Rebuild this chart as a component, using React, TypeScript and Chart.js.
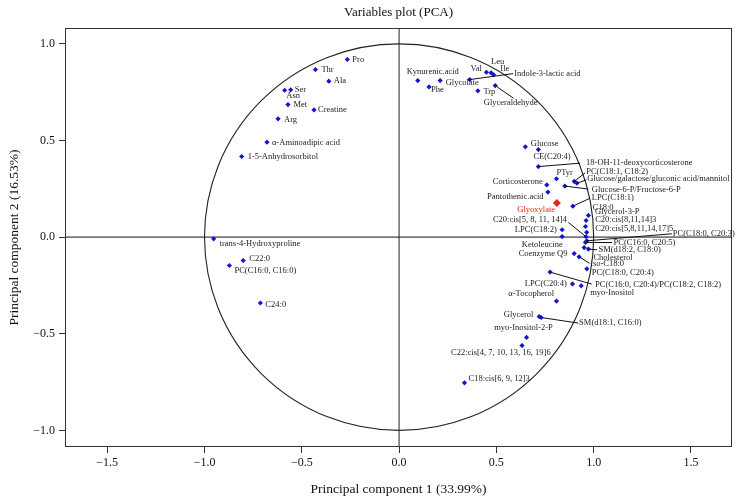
import React, { useEffect, useRef } from "react";
import { Chart, registerables } from "chart.js";
Chart.register(...registerables);

const names = [
  "Pro", "Thr", "Ala", "Ser", "Asn", "Met", "Creatine", "Arg", "α-Aminoadipic acid", "1-5-Anhydrosorbitol",
  "trans-4-Hydroxyproline", "C22:0", "PC(C16:0, C16:0)", "C24:0",
  "Kynurenic.acid", "Phe", "Glycolate", "Indole-3-lactic acid", "Trp", "Val", "Leu", "Ile", "Glyceraldehyde",
  "Glucose", "CE(C20:4)", "18-OH-11-deoxycorticosterone", "PTyr", "PC(C18:1, C18:2)",
  "Glucose/galactose/gluconic acid/mannitol", "Corticosterone", "Pantothenic.acid", "Glyoxylate",
  "Glucose-6-P/Fructose-6-P", "LPC(C18:1)", "C18:0", "Glycerol-3-P", "C20:cis[8,11,14]3",
  "C20:cis[5,8,11,14,17]5", "C20:cis[5, 8, 11, 14]4", "LPC(C18:2)", "Ketoleucine", "PC(C18:0, C20:3)",
  "PC(C16:0, C20:5)", "Cholesterol", "SM(d18:2, C18:0)", "Coenzyme Q9", "iso-C18:0", "PC(C18:0, C20:4)",
  "PC(C16:0, C20:4)/PC(C18:2, C18:2)", "LPC(C20:4)", "myo-Inositol", "α-Tocopherol", "Glycerol",
  "SM(d18:1, C16:0)", "myo-Inositol-2-P", "C22:cis[4, 7, 10, 13, 16, 19]6", "C18:cis[6, 9, 12]3",
];

const pc1 = [
  -0.266, -0.43, -0.361, -0.557, -0.588, -0.571, -0.437, -0.622, -0.679, -0.809,
  -0.953, -0.801, -0.872, -0.713,
  0.096, 0.154, 0.211, 0.363, 0.405, 0.449, 0.473, 0.486, 0.494,
  0.649, 0.716, 0.716, 0.809, 0.9,
  0.914, 0.759, 0.765, 0.811,
  0.852, 0.893, 0.973, 0.961, 0.958,
  0.964, 0.961, 0.838, 0.838, 0.965,
  0.958, 0.951, 0.973, 0.9, 0.925, 0.965,
  0.776, 0.891, 0.936, 0.809, 0.72,
  0.73, 0.655, 0.632, 0.336,
];

const pc2 = [
  0.919, 0.867, 0.807, 0.762, 0.76, 0.686, 0.658, 0.612, 0.491, 0.417,
  -0.009, -0.121, -0.147, -0.341,
  0.81, 0.777, 0.81, 0.815, 0.757, 0.853, 0.85, 0.84, 0.784,
  0.467, 0.453, 0.365, 0.302, 0.288,
  0.279, 0.27, 0.233, 0.176,
  0.264, 0.16, 0.112, 0.086, 0.055,
  0.025, 0.002, 0.038, 0.003, -0.019,
  -0.028, -0.054, -0.062, -0.085, -0.102, -0.164,
  -0.181, -0.242, -0.252, -0.331, -0.411,
  -0.416, -0.519, -0.561, -0.754,
];

const highlighted = ["Glyoxylate"];
const chartTitle = "Variables plot (PCA)";
const xTitle = "Principal component 1 (33.99%)";
const yTitle = "Principal component 2 (16.53%)";

// label placement: [dx, dy, align, leaderDx?, leaderDy?] in pixels relative to the point
type Lay = [number, number, "l" | "r" | "c", number?, number?];
const labelLayout: Record<string, Lay> = {
  "Pro": [5, 0, "l"],
  "Thr": [6, 0, "l"],
  "Ala": [5, 0, "l"],
  "Ser": [4, 0, "l"],
  "Asn": [8.5, 6, "c"],
  "Met": [5.5, 0, "l"],
  "Creatine": [4, 0, "l"],
  "Arg": [6, 1, "l"],
  "α-Aminoadipic acid": [5, 0.5, "l"],
  "1-5-Anhydrosorbitol": [6, 0, "l"],
  "trans-4-Hydroxyproline": [6, 5, "l"],
  "C22:0": [6, -1.5, "l"],
  "PC(C16:0, C16:0)": [5, 5, "l"],
  "C24:0": [5, 1.5, "l"],
  "Kynurenic.acid": [15, -9, "c"],
  "Phe": [2, 3, "l"],
  "Glycolate": [5.5, 2.6, "l"],
  "Indole-3-lactic acid": [44.5, -5.7, "l", 43.3, -6],
  "Trp": [5.5, 1, "l"],
  "Val": [-4.5, -3.3, "r"],
  "Leu": [6.5, -10.7, "c"],
  "Ile": [6.7, -6, "l"],
  "Glyceraldehyde": [15.5, 17.3, "c", 18.3, 12.6],
  "Glucose": [5.4, -3, "l"],
  "CE(C20:4)": [-5, 7, "l"],
  "18-OH-11-deoxycorticosterone": [47.7, -3.4, "l", 41.7, -3.4],
  "PTyr": [0, -5.7, "l"],
  "PC(C18:1, C18:2)": [12, -10, "l", 11, -8.7],
  "Glucose/galactose/gluconic acid/mannitol": [10.3, -4, "l", 9.3, -3.3],
  "Corticosterone": [-4, -3, "r"],
  "Pantothenic.acid": [-4.4, 4.4, "r"],
  "Glyoxylate": [-20.7, 7, "c"],
  "Glucose-6-P/Fructose-6-P": [27, 3.7, "l", 23.6, 3],
  "LPC(C18:1)": [19, -8, "l", 17.3, -8],
  "C18:0": [4.4, -8, "l"],
  "Glycerol-3-P": [9, -8.4, "l"],
  "C20:cis[8,11,14]3": [9.7, -6.4, "l"],
  "C20:cis[5,8,11,14,17]5": [8.5, -3.8, "l"],
  "C20:cis[5, 8, 11, 14]4": [-19.3, -16.7, "r", -17.7, -14.3],
  "LPC(C18:2)": [-5.3, 0, "r"],
  "Ketoleucine": [0.7, 8.3, "r"],
  "PC(C18:0, C20:3)": [86, -7, "l", 85, -7],
  "PC(C16:0, C20:5)": [28, 0, "l", 26.7, 0],
  "Cholesterol": [9.3, 10, "l"],
  "SM(d18:2, C18:0)": [10, 0.7, "l", 8.7, 0.7],
  "Coenzyme Q9": [-6.7, 0, "r"],
  "iso-C18:0": [11.5, 7.3, "l", 10.5, 6.5],
  "PC(C18:0, C20:4)": [5, 3.7, "l"],
  "PC(C16:0, C20:4)/PC(C18:2, C18:2)": [45, 12.7, "l", 41.7, 12],
  "LPC(C20:4)": [-5.6, 0, "r"],
  "myo-Inositol": [9, 6.7, "l"],
  "α-Tocopherol": [-2.3, -7, "r"],
  "Glycerol": [-5.7, -1.7, "r"],
  "SM(d18:1, C16:0)": [38, 5.6, "l", 37.3, 5.6],
  "myo-Inositol-2-P": [-3, -9.4, "c"],
  "C22:cis[4, 7, 10, 13, 16, 19]6": [-21.2, 7, "c"],
  "C18:cis[6, 9, 12]3": [4, -3.7, "l"],
};

const FONT = "'Liberation Serif', 'Times New Roman', serif";
const BLUE = "#1414d2";
const RED = "#e3251d";

const fmt = (v: number) => {
  const r = Math.round(v * 10) / 10;
  if (Math.abs(r) < 1e-9) return "0.0";
  return (r < 0 ? "\u2212" : "") + Math.abs(r).toFixed(1);
};

const pcaPlugin = {
  id: "pcaDecor",
  beforeDatasetsDraw(chart: any) {
    const { ctx, chartArea: a, scales } = chart;
    const xs = scales.x, ys = scales.y;
    const x0 = xs.getPixelForValue(0), y0 = ys.getPixelForValue(0);
    const rx = xs.getPixelForValue(1) - x0;
    const ry = y0 - ys.getPixelForValue(1);
    ctx.save();
    ctx.beginPath();
    ctx.rect(a.left, a.top, a.right - a.left, a.bottom - a.top);
    ctx.clip();
    // zero lines
    ctx.strokeStyle = "#777";
    ctx.lineWidth = 1.6;
    ctx.beginPath();
    ctx.moveTo(a.left, y0);
    ctx.lineTo(a.right, y0);
    ctx.stroke();
    ctx.strokeStyle = "#222";
    ctx.lineWidth = 1;
    ctx.beginPath();
    ctx.moveTo(x0, a.top);
    ctx.lineTo(x0, a.bottom);
    ctx.stroke();
    // correlation circle
    ctx.strokeStyle = "#222";
    ctx.lineWidth = 1.1;
    ctx.beginPath();
    ctx.ellipse(x0, y0, rx, ry, 0, 0, Math.PI * 2);
    ctx.stroke();
    ctx.restore();
  },
  afterDatasetsDraw(chart: any) {
    const { ctx, chartArea: a, scales } = chart;
    const xs = scales.x, ys = scales.y;
    ctx.save();
    ctx.font = `8.5px ${FONT}`;
    ctx.textBaseline = "middle";
    names.forEach((n, i) => {
      const lay = labelLayout[n] || [5, 0, "l"];
      const px = xs.getPixelForValue(pc1[i]);
      const py = ys.getPixelForValue(pc2[i]);
      if (lay[3] !== undefined) {
        ctx.strokeStyle = "#111";
        ctx.lineWidth = 1;
        ctx.beginPath();
        ctx.moveTo(px, py);
        ctx.lineTo(px + (lay[3] as number), py + (lay[4] as number));
        ctx.stroke();
      }
      ctx.fillStyle = highlighted.includes(n) ? RED : "#222";
      ctx.textAlign = lay[2] === "l" ? "left" : lay[2] === "r" ? "right" : "center";
      ctx.fillText(n, px + lay[0], py + lay[1]);
    });
    // frame
    ctx.strokeStyle = "#333";
    ctx.lineWidth = 1;
    ctx.strokeRect(Math.round(a.left) + 0.5, Math.round(a.top) + 0.5, Math.round(a.right - a.left) - 1, Math.round(a.bottom - a.top) - 1);
    // title
    ctx.fillStyle = "#111";
    ctx.font = `13px ${FONT}`;
    ctx.textAlign = "center";
    ctx.textBaseline = "middle";
    ctx.fillText(chartTitle, (a.left + a.right) / 2, 13);
    ctx.restore();
  },
};

export default function App() {
  const ref = useRef<HTMLCanvasElement>(null);
  useEffect(() => {
    if (!ref.current) return;
    const points = names.map((n, i) => ({ x: pc1[i], y: pc2[i] }));
    const isHi = names.map((n) => highlighted.includes(n));
    const chart = new Chart(ref.current, {
      type: "scatter",
      data: {
        datasets: [
          {
            data: points,
            pointStyle: "rectRot",
            pointRadius: isHi.map((h) => (h ? 4 : 2.6)),
            pointBackgroundColor: isHi.map((h) => (h ? RED : BLUE)),
            pointBorderColor: isHi.map((h) => (h ? RED : BLUE)),
            pointBorderWidth: 0,
          },
        ],
      },
      options: {
        responsive: false,
        animation: false,
        devicePixelRatio: 1,
        layout: { padding: { top: 28, right: 8, left: 0, bottom: 0 } },
        plugins: { legend: { display: false }, tooltip: { enabled: false }, title: { display: false } },
        scales: {
          x: {
            type: "linear",
            min: -1.717,
            max: 1.711,
            afterFit: (s: any) => { s.height = 53; },
            ticks: {
              stepSize: 0.5,
              includeBounds: false,
              autoSkip: false,
              maxRotation: 0,
              padding: 3,
              color: "#111",
              font: { family: FONT, size: 12 },
              callback: (v: any) => fmt(Number(v)),
            },
            grid: { display: true, drawOnChartArea: false, drawTicks: true, tickLength: 6, color: "#333" },
            border: { display: false },
            title: { display: true, text: xTitle, color: "#111", font: { family: FONT, size: 13.5 }, padding: { top: 0, bottom: 2 } },
          },
          y: {
            type: "linear",
            min: -1.086,
            max: 1.082,
            afterFit: (s: any) => { s.width = 65; },
            ticks: {
              stepSize: 0.5,
              includeBounds: false,
              autoSkip: false,
              padding: 4,
              color: "#111",
              font: { family: FONT, size: 12 },
              callback: (v: any) => fmt(Number(v)),
            },
            grid: { display: true, drawOnChartArea: false, drawTicks: true, tickLength: 6, color: "#333" },
            border: { display: false },
            title: { display: true, text: yTitle, color: "#111", font: { family: FONT, size: 13.5 }, padding: { top: 6, bottom: 0 } },
          },
        },
      },
      plugins: [pcaPlugin],
    } as any);
    return () => chart.destroy();
  }, []);
  return (
    <div style={{ position: "fixed", left: 0, top: 0, width: 740, height: 500, background: "#fff" }}>
      <canvas ref={ref} width={740} height={500} style={{ display: "block", width: 740, height: 500 }} />
    </div>
  );
}
